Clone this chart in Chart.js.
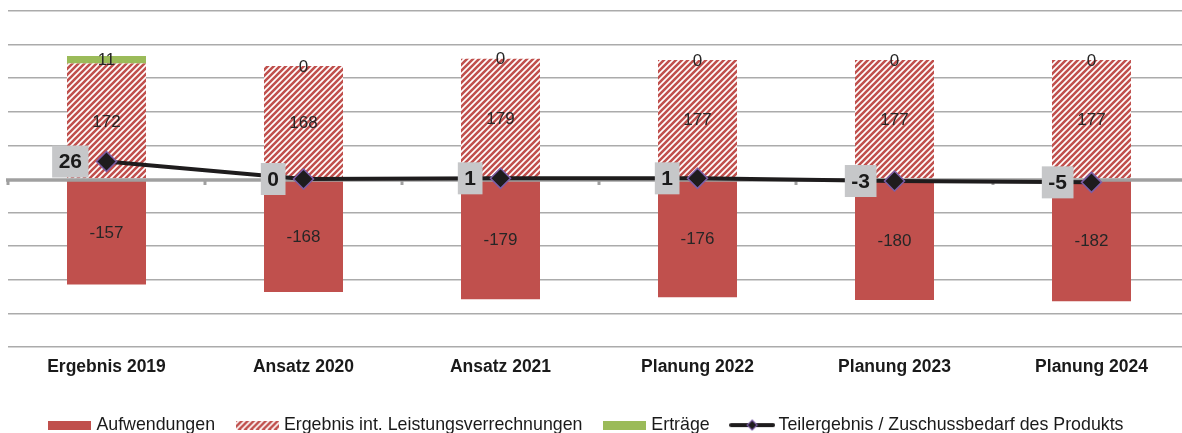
<!DOCTYPE html>
<html>
<head>
<meta charset="utf-8">
<script src="https://cdn.jsdelivr.net/npm/chart.js@4/dist/chart.umd.min.js"></script>
<style>
  html, body { margin: 0; padding: 0; background: #fff; overflow: hidden; width: 1182px; height: 433px; }
  #wrap { position: absolute; left: -14px; top: 0; width: 1204px; height: 444px; }
</style>
</head>
<body>
<div id="wrap"><canvas id="chart" width="1204" height="444"></canvas></div>
<script>
// Chart data (T€)
const categories = ['Ergebnis 2019', 'Ansatz 2020', 'Ansatz 2021', 'Planung 2022', 'Planung 2023', 'Planung 2024'];
const aufwendungen = [-157, -168, -179, -176, -180, -182];
const ilvErgebnis = [172, 168, 179, 177, 177, 177];
const ertraege = [11, 0, 0, 0, 0, 0];
const teilergebnis = [26, 0, 1, 1, -3, -5];

const RED = '#c0504d';
const GREEN = '#9bbb59';
const LINE = '#1e1c1d';
const MARKER_BORDER = '#7b5ea7';
const FONT = "'Liberation Sans', Arial, sans-serif";

// Hatched fill for the internal charges series
function makeHatch() {
    const c = document.createElement('canvas');
    c.width = 6; c.height = 6;
    const g = c.getContext('2d');
    g.fillStyle = '#fff';
    g.fillRect(0, 0, 6, 6);
    g.strokeStyle = RED;
    g.lineWidth = 2.6;
    g.beginPath();
    g.moveTo(-3, 3); g.lineTo(3, -3);
    g.moveTo(0, 6); g.lineTo(6, 0);
    g.moveTo(3, 9); g.lineTo(9, 3);
    g.stroke();
    return c;
}
const hatchTile = makeHatch();
const hatch = document.getElementById('chart').getContext('2d').createPattern(hatchTile, 'repeat');

// Legend icons
function boxIcon(fill) {
    const c = document.createElement('canvas');
    c.width = 43; c.height = 9;
    const g = c.getContext('2d');
    g.fillStyle = fill;
    g.fillRect(0, 0, 43, 9);
    return c;
}
function lineIcon() {
    const c = document.createElement('canvas');
    c.width = 46; c.height = 12;
    const g = c.getContext('2d');
    g.strokeStyle = LINE;
    g.lineWidth = 4;
    g.lineCap = 'round';
    g.beginPath(); g.moveTo(2, 6); g.lineTo(44, 6); g.stroke();
    g.fillStyle = LINE;
    g.strokeStyle = MARKER_BORDER;
    g.lineWidth = 1.2;
    g.beginPath();
    g.moveTo(23, 1); g.lineTo(28, 6); g.lineTo(23, 11); g.lineTo(18, 6); g.closePath();
    g.fill(); g.stroke();
    return c;
}
const hatchIconCanvas = (() => {
    const c = document.createElement('canvas');
    c.width = 43; c.height = 9;
    const g = c.getContext('2d');
    g.fillStyle = g.createPattern(hatchTile, 'repeat');
    g.fillRect(0, 0, 43, 9);
    return c;
})();

const legendItems = [
    { text: 'Aufwendungen', icon: boxIcon(RED), ds: 2 },
    { text: 'Ergebnis int. Leistungsverrechnungen', icon: hatchIconCanvas, ds: 0 },
    { text: 'Erträge', icon: boxIcon(GREEN), ds: 1 },
    { text: 'Teilergebnis / Zuschussbedarf des Produkts', icon: lineIcon(), ds: 3 }
];

// Zero axis, category tick marks and value labels
const labelPlugin = {
    id: 'valueLabels',
    beforeDatasetDraw(chart, args) {
        if (args.meta.type !== 'line') return;
        const ctx = chart.ctx;
        const xs = chart.scales.x, ys = chart.scales.y;
        const y0 = ys.getPixelForValue(0) + 1;
        ctx.save();
        ctx.strokeStyle = '#a0a0a0';
        ctx.lineWidth = 3.5;
        ctx.beginPath();
        ctx.moveTo(xs.left - 2, y0);
        ctx.lineTo(xs.right, y0);
        ctx.stroke();
        ctx.lineWidth = 3;
        const step = (xs.right - xs.left) / categories.length;
        for (let i = 0; i <= categories.length; i++) {
            const px = xs.left + i * step;
            ctx.beginPath();
            ctx.moveTo(px, y0);
            ctx.lineTo(px, y0 + 5);
            ctx.stroke();
        }
        ctx.restore();
    },
    afterDatasetsDraw(chart) {
        const ctx = chart.ctx;
        ctx.save();
        ctx.textAlign = 'center';
        ctx.textBaseline = 'middle';
        // bar segment labels
        ctx.font = '17px ' + FONT;
        ctx.fillStyle = '#262626';
        chart.data.datasets.forEach((ds, di) => {
            if (ds.type === 'line') return;
            chart.getDatasetMeta(di).data.forEach((bar, i) => {
                ctx.fillText(String(ds.data[i]), bar.x, (bar.y + bar.base) / 2 + 1);
            });
        });
        // line labels in grey boxes
        const li = chart.data.datasets.findIndex(d => d.type === 'line');
        ctx.font = 'bold 21px ' + FONT;
        chart.getDatasetMeta(li).data.forEach((pt, i) => {
            const txt = String(teilergebnis[i]);
            const w = ctx.measureText(txt).width + 13;
            const h = 32;
            const right = pt.x - 18;
            ctx.fillStyle = '#c6c7c9';
            ctx.fillRect(right - w, pt.y - h / 2, w, h);
            ctx.fillStyle = '#1a1a1a';
            ctx.fillText(txt, right - w / 2, pt.y + 1);
        });
        ctx.restore();
    }
};

new Chart(document.getElementById('chart'), {
    data: {
        labels: categories,
        datasets: [
            { type: 'bar', label: 'Ergebnis int. Leistungsverrechnungen', data: ilvErgebnis, backgroundColor: hatch, order: 1 },
            { type: 'bar', label: 'Erträge', data: ertraege, backgroundColor: GREEN, order: 1 },
            { type: 'bar', label: 'Aufwendungen', data: aufwendungen, backgroundColor: RED, order: 1 },
            {
                type: 'line', label: 'Teilergebnis / Zuschussbedarf des Produkts', data: teilergebnis,
                borderColor: LINE, borderWidth: 4, tension: 0,
                pointStyle: 'rectRot', pointRadius: 10, pointHoverRadius: 10,
                pointBackgroundColor: LINE, pointBorderColor: MARKER_BORDER, pointBorderWidth: 1.5,
                order: 0
            }
        ]
    },
    options: {
        responsive: false,
        devicePixelRatio: 1,
        animation: false,
        events: [],
        layout: { autoPadding: false, padding: { top: 11, left: 0, right: 0, bottom: 0 } },
        datasets: { bar: { barPercentage: 0.401, categoryPercentage: 1, borderWidth: 0 } },
        scales: {
            x: {
                stacked: true,
                grid: { display: false, drawTicks: false },
                border: { display: false },
                ticks: { color: '#1a1a1a', font: { family: FONT, size: 17.5, weight: 'bold' }, padding: 10, maxRotation: 0 },
                afterFit(scale) { scale.height = 44.2; }
            },
            y: {
                stacked: true,
                min: -250, max: 250,
                ticks: { display: false, stepSize: 50 },
                grid: {
                    drawTicks: false,
                    color: ctx => ctx.tick && ctx.tick.value === 0 ? 'rgba(0,0,0,0)' : '#ababab',
                    lineWidth: 1.5
                },
                border: { display: false },
                afterFit(scale) { scale.width = 22; }
            }
        },
        plugins: {
            title: { display: false },
            tooltip: { enabled: false },
            legend: {
                position: 'bottom',
                labels: {
                    usePointStyle: true,
                    pointStyleWidth: 35,
                    padding: 25,
                    color: '#1a1a1a',
                    font: { family: FONT, size: 17.8 },
                    generateLabels: () => legendItems.map(it => ({
                        text: it.text,
                        pointStyle: it.icon,
                        datasetIndex: it.ds,
                        hidden: false,
                        lineWidth: 0,
                        fontColor: '#1a1a1a'
                    }))
                }
            }
        }
    },
    plugins: [labelPlugin]
});
</script>
</body>
</html>
